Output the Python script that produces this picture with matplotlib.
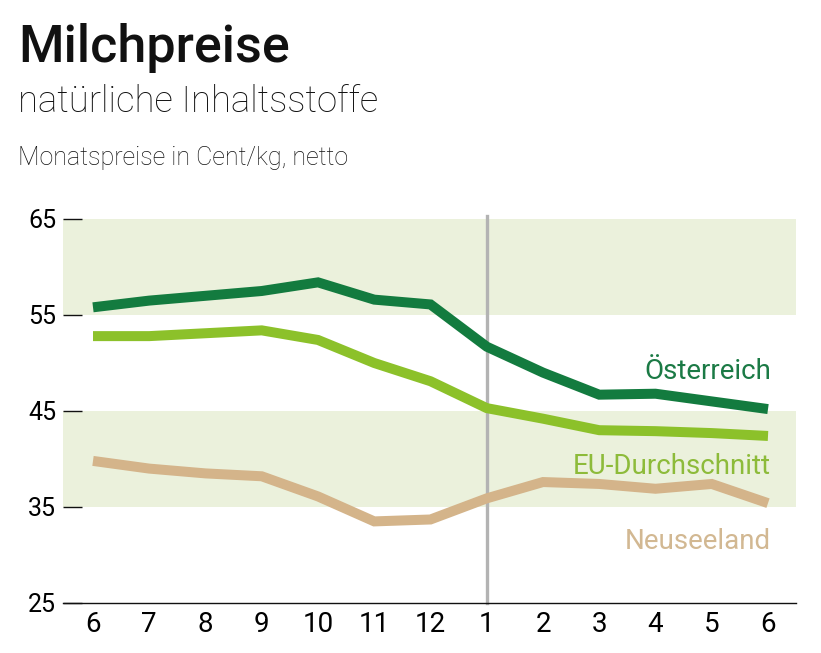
import matplotlib
matplotlib.use("Agg")
import matplotlib.pyplot as plt

FONT = ['Roboto', 'DejaVu Sans']

months = ["6", "7", "8", "9", "10", "11", "12", "1", "2", "3", "4", "5", "6"]
oesterreich = [55.8, 56.5, 57.0, 57.5, 58.4, 56.6, 56.1, 51.7, 49.0, 46.7, 46.8, 46.0, 45.2]
eu_schnitt = [52.8, 52.8, 53.1, 53.4, 52.4, 50.0, 48.1, 45.3, 44.2, 43.0, 42.9, 42.7, 42.4]
neuseeland = [39.8, 39.0, 38.5, 38.2, 36.1, 33.5, 33.7, 35.9, 37.6, 37.4, 36.9, 37.4, 35.4]
y_ticks = [25, 35, 45, 55, 65]
bands = [(35, 45), (55, 65)]
series_labels = ["Österreich", "EU-Durchschnitt", "Neuseeland"]

C_OE = "#137b3f"
C_EU = "#8cc12a"
C_NZ = "#d4b48a"
C_BAND = "#ebf1dc"

W, H = 821, 653
fig = plt.figure(figsize=(W / 100, H / 100), dpi=100)
ax = fig.add_axes([63 / W, 1 - 603 / H, (796 - 63) / W, (603 - 219) / H])

x = list(range(len(months)))
ax.set_xlim((63 - 93) / 56.25, (796 - 93) / 56.25)
ax.set_ylim(25, 65)

for lo, hi in bands:
    ax.axhspan(lo, hi, color=C_BAND, lw=0, zorder=0)

ax.axvline(months.index("1"), ymin=0, ymax=1.008, color="#b3b3b3", lw=2.4, clip_on=False, zorder=1)

lw = 7.2
ax.plot(x, neuseeland, color=C_NZ, lw=lw, solid_joinstyle="miter", solid_capstyle="butt", zorder=3)
ax.plot(x, eu_schnitt, color=C_EU, lw=lw, solid_joinstyle="miter", solid_capstyle="butt", zorder=3)
ax.plot(x, oesterreich, color=C_OE, lw=lw, solid_joinstyle="miter", solid_capstyle="butt", zorder=3)

for s in ["left", "top", "right"]:
    ax.spines[s].set_visible(False)
ax.spines["bottom"].set_color("#111111")
ax.spines["bottom"].set_linewidth(1.0)

ax.set_yticks(y_ticks)
ax.set_yticklabels([str(v) for v in y_ticks], fontsize=18, family=FONT)
ax.tick_params(axis="y", direction="in", length=13.7, width=1.0, color="#111111", pad=5)
ax.set_xticks(x)
ax.set_xticklabels(months, fontsize=20, family=FONT)
ax.tick_params(axis="x", length=0, pad=6)

lx = 12.05
ax.text(lx, 48.3, series_labels[0], color="#1b7a45", fontsize=20, family=FONT, ha="right", va="baseline")
ax.text(lx, 38.4, series_labels[1], color="#8dbb3a", fontsize=20, family=FONT, ha="right", va="baseline")
ax.text(lx, 30.6, series_labels[2], color="#d2b892", fontsize=20, family=FONT, ha="right", va="baseline")

fig.text(18 / W, 1 - 62 / H, "Milchpreise", fontsize=37.5, family=FONT, weight="medium", color="#111111", va="baseline")
fig.text(18 / W, 1 - 112 / H, "natürliche Inhaltsstoffe", fontsize=26.3, family=FONT, weight="light", color="#111111", va="baseline")
fig.text(18 / W, 1 - 165 / H, "Monatspreise in Cent/kg, netto", fontsize=18, family=FONT, weight="light", color="#111111", va="baseline")

fig.savefig("out.png", dpi=100)
